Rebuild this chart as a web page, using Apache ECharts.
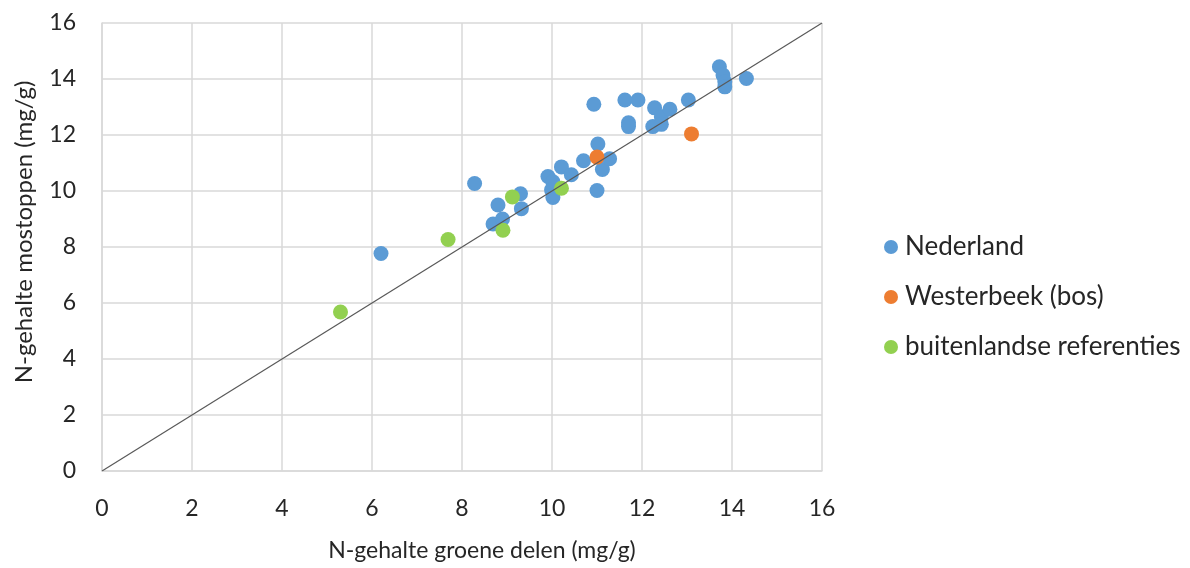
<!DOCTYPE html>
<html>
<head>
<meta charset="utf-8">
<script src="https://cdn.jsdelivr.net/npm/echarts@6/dist/echarts.min.js"></script>
<style>
  html, body { margin: 0; padding: 0; background: #ffffff; }
  #chart { width: 1190px; height: 568px; }
</style>
</head>
<body>
<div id="chart"></div>
<script>
// N-gehalte: groene delen (x) vs mostoppen (y), mg/g
const nederland = [
  [6.2, 7.77], [8.28, 10.27], [8.8, 9.5], [8.69, 8.82], [8.9, 9.0],
  [9.3, 9.9], [9.32, 9.37], [9.91, 10.52], [10.02, 10.33], [9.99, 10.04],
  [10.02, 9.77], [10.21, 10.86], [10.43, 10.58], [10.7, 11.08], [11.0, 10.02],
  [11.02, 11.68], [11.12, 10.77], [11.28, 11.15], [10.93, 13.1], [11.62, 13.25],
  [11.91, 13.25], [11.7, 12.44], [11.7, 12.3], [12.24, 12.3], [12.28, 12.97],
  [12.43, 12.65], [12.43, 12.38], [12.62, 12.92], [13.03, 13.25], [13.72, 14.44],
  [13.8, 14.14], [13.84, 13.9], [13.84, 13.72], [14.32, 14.02]
];
const westerbeek = [
  [11.0, 11.21], [13.1, 12.04]
];
const buitenland = [
  [5.3, 5.68], [7.69, 8.27], [8.91, 8.6], [9.12, 9.79], [10.21, 10.1]
];
// 1:1 reference line
const gelijkLijn = [[0, 0], [16, 16]];

const seriesNames = ['Nederland', 'Westerbeek (bos)', 'buitenlandse referenties'];
const seriesColors = ['#5B9BD5', '#ED7D31', '#92D050'];
const xTitle = 'N-gehalte groene delen (mg/g)';
const yTitle = 'N-gehalte mostoppen (mg/g)';

const font = 'Lato, "Open Sans", sans-serif';
const textColor = '#262626';
const gridColor = '#d9d9d9';

const chart = echarts.init(document.getElementById('chart'), null, { renderer: 'canvas' });

const axisCommon = {
  type: 'value',
  min: 0,
  max: 16,
  interval: 2,
  nameLocation: 'middle',
  axisLine: { show: true, lineStyle: { color: gridColor, width: 1.5 } },
  axisTick: { show: false },
  splitLine: { show: true, lineStyle: { color: gridColor, width: 1.5 } },
  axisLabel: { fontFamily: font, fontSize: 23, color: textColor }
};

chart.setOption({
  animation: false,
  backgroundColor: '#ffffff',
  grid: { left: 102, top: 23, right: 368, bottom: 97, containLabel: false },
  xAxis: Object.assign({}, axisCommon, {
    name: xTitle,
    nameGap: 68,
    nameTextStyle: { fontFamily: font, fontSize: 23, color: textColor, padding: [0, 0, 0, 40] },
    axisLabel: Object.assign({}, axisCommon.axisLabel, { margin: 26 })
  }),
  yAxis: Object.assign({}, axisCommon, {
    name: yTitle,
    nameGap: 66,
    nameTextStyle: { fontFamily: font, fontSize: 24, color: textColor, padding: [0, 0, 0, 30] },
    axisLabel: Object.assign({}, axisCommon.axisLabel, { margin: 26 })
  }),
  legend: {
    orient: 'vertical',
    left: 879,
    top: 227,
    itemWidth: 14,
    itemHeight: 14,
    itemGap: 20,
    icon: 'circle',
    data: seriesNames,
    textStyle: { fontFamily: font, fontSize: 26, color: textColor, lineHeight: 30, padding: [0, 0, 0, 2] }
  },
  series: [
    {
      name: 'lijn',
      type: 'line',
      data: gelijkLijn,
      showSymbol: false,
      silent: true,
      lineStyle: { color: '#595959', width: 1.2 },
      z: 3
    },
    {
      name: seriesNames[0], type: 'scatter', data: nederland,
      symbolSize: 15, itemStyle: { color: seriesColors[0], opacity: 1 }, z: 2
    },
    {
      name: seriesNames[1], type: 'scatter', data: westerbeek,
      symbolSize: 15, itemStyle: { color: seriesColors[1], opacity: 1 }, z: 2
    },
    {
      name: seriesNames[2], type: 'scatter', data: buitenland,
      symbolSize: 15, itemStyle: { color: seriesColors[2], opacity: 1 }, z: 2
    }
  ]
});
</script>
</body>
</html>
